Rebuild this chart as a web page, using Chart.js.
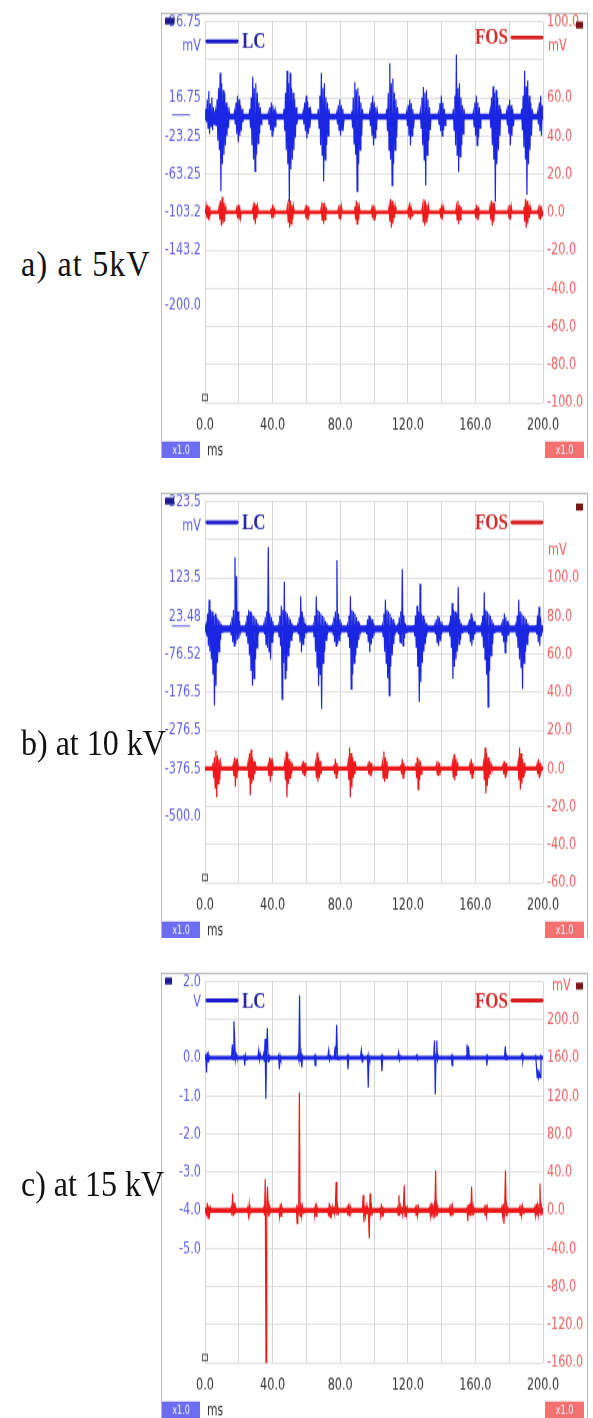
<!DOCTYPE html>
<html><head><meta charset="utf-8">
<script src="https://cdn.jsdelivr.net/npm/chart.js@4.4.1/dist/chart.umd.min.js"></script>
<style>
body{margin:0;width:593px;height:1418px;background:#fff;position:relative;overflow:hidden}
.panel{position:absolute;left:155px;width:438px;height:335px;transform-origin:0 0}
.lab{position:absolute;left:21px;font-family:'Liberation Serif','Times New Roman',serif;font-size:32px;line-height:32px;color:#111;transform:scaleY(1.15);transform-origin:left center;white-space:nowrap}
</style></head><body>
<div class="panel" id="pa" style="top:6px"><canvas id="ca" width="438" height="335"></canvas></div>
<div class="panel" id="pb" style="top:486px"><canvas id="cb" width="438" height="335"></canvas></div>
<div class="panel" id="pc" style="top:966px"><canvas id="cc" width="438" height="335"></canvas></div>
<div class="lab" style="top:247px;letter-spacing:1.2px">a) at 5kV</div>
<div class="lab" style="top:726px">b) at 10 kV</div>
<div class="lab" style="top:1167px">c) at 15 kV</div>
<script>
// ---------- shared x axis (ms) ----------
const xTicks = [0,20,40,60,80,100,120,140,160,180,200];
const xLabels = ['0.0','','40.0','','80.0','','120.0','','160.0','','200.0'];
const DT = 0.45; // ms between samples inside a burst

// ---------- panel a (5 kV) ----------
const lcA_range = [-303.25, 96.75];
const lcA_ticks = [96.75, 16.75, -23.25, -63.25, -103.25, -143.25, -200];
const lcA_labels = ['96.75','16.75','-23.25','-63.25','-103.2','-143.2','-200.0'];
const fosA_range = [-100, 100];
const fosA_ticks = [100,80,60,40,20,0,-20,-40,-60,-80,-100];
const fosA_labels = ['100.0','','60.0','40.0','20.0','0.0','-20.0','-40.0','-60.0','-80.0','-100.0'];
const lcA_base = -3;
const lcA_bursts = [
 [0,[0,8,-6,18,-12,27,-18,14,-10,20,-14,10,-8,6,-5,0]],
 [5.8,[0,6,-10,18,-25,30,-35,46,-78,35,-50,28,-40,25,-30,15,-20,10,-12,6,0]],
 [17,[0,5,-8,15,-18,22,-27,18,-20,12,-15,8,-6,0]],
 [26,[0,8,-12,20,-30,42,-45,30,-57,35,-40,25,-28,15,-18,10,-8,0]],
 [37,[0,4,-8,10,-14,15,-20,12,-15,8,-10,5,0]],
 [46.3,[0,8,-15,25,-35,48,-50,35,-89,46,-55,30,-45,25,-35,18,-22,10,-8,0]],
 [57.6,[0,5,-8,15,-15,22,-23,16,-18,10,-12,6,0]],
 [66.6,[0,8,-12,22,-30,46,-40,30,-68,35,-45,20,-30,15,-20,8,0]],
 [77.5,[0,4,-8,12,-14,18,-20,12,-14,8,-8,0]],
 [86.4,[0,6,-12,20,-28,36,-40,28,-78,30,-50,22,-35,15,-20,8,0]],
 [97,[0,5,-10,15,-20,22,-30,15,-22,10,-14,6,0]],
 [107.1,[0,8,-15,25,-35,56,-45,35,-72,40,-50,25,-35,18,-22,10,0]],
 [118.9,[0,5,-10,12,-20,18,-30,14,-20,8,-12,0]],
 [127,[0,6,-12,20,-30,31,-45,25,-72,28,-40,18,-25,10,-14,0]],
 [137.6,[0,4,-8,14,-15,22,-20,15,-14,8,-9,0]],
 [146.5,[0,8,-14,22,-30,65,-40,30,-58,35,-42,20,-30,12,-18,8,0]],
 [158.3,[0,5,-10,15,-20,22,-30,15,-22,10,-12,0]],
 [168.2,[0,6,-12,20,-30,32,-45,25,-89,28,-50,20,-35,12,-20,8,0]],
 [178,[0,5,-9,12,-18,18,-30,12,-20,8,-10,0]],
 [186.9,[0,8,-14,22,-32,48,-45,32,-82,38,-50,22,-35,15,-20,8,0]],
 [196.4,[0,5,-8,15,-15,22,-20,12,0]]
];
const fosA_base = 0;
const fosA_bursts = [
 [0.2,[0,3,-3,4,-4,3,-2,0]],
 [7.9,[0,3,-4,6,-7,8,-6,5,-5,3,0]],
 [18.3,[0,2,-3,4,-4,3,-3,0]],
 [28,[0,3,-4,5,-6,4,-3,3,0]],
 [38.6,[0,2,-3,4,-3,2,0]],
 [48.3,[0,3,-5,7,-8,6,-6,4,-4,3,0]],
 [58.8,[0,2,-3,4,-4,3,-2,0]],
 [68.4,[0,3,-4,5,-6,5,-4,3,0]],
 [78.5,[0,2,-3,4,-4,3,0]],
 [88.2,[0,3,-4,6,-6,5,-4,3,0]],
 [98.2,[0,2,-3,4,-4,3,-2,0]],
 [108.5,[0,3,-5,7,-8,6,-6,4,-3,3,0]],
 [119.8,[0,2,-3,5,-4,3,-2,0]],
 [128.2,[0,3,-5,7,-7,6,-5,4,-3,3,0]],
 [138.6,[0,2,-3,4,-4,3,0]],
 [148.3,[0,3,-4,6,-6,4,-4,3,0]],
 [159.3,[0,2,-3,4,-4,3,-2,0]],
 [168.2,[0,3,-4,6,-7,5,-5,3,0]],
 [179,[0,2,-3,4,-4,3,0]],
 [188.3,[0,3,-5,7,-8,6,-6,4,-3,3,0]],
 [196.8,[0,2,-3,4,-4,3,-2,0]]
];

// ---------- panel b (10 kV) ----------
const lcB_range = [-676.5, 323.5];
const lcB_ticks = [323.5, 123.5, 23.48, -76.52, -176.5, -276.5, -376.5, -500];
const lcB_labels = ['323.5','123.5','23.48','-76.52','-176.5','-276.5','-376.5','-500.0'];
const fosB_range = [-60, 140];
const fosB_ticks = [140,120,100,80,60,40,20,0,-20,-40,-60];
const fosB_labels = ['','','100.0','80.0','60.0','40.0','20.0','0.0','-20.0','-40.0','-60.0'];
const lcB_base = -10;
const lcB_bursts = [
 [0.2,[0,10,-20,40,-45,76,-60,50,-80,45,-120,35,-201,40,-150,30,-90,25,-60,20,-30,12,-8,0]],
 [14.6,[0,10,-15,30,-35,50,-45,188,-40,138,-30,45,-25,20,-10,0]],
 [23.6,[0,10,-20,35,-40,50,-70,45,-110,40,-149,35,-130,30,-80,25,-50,15,-10,0]],
 [34.3,[0,10,-15,30,-40,45,-50,214,-60,40,-80,30,-35,20,-10,0]],
 [42.9,[0,10,-20,35,-45,60,-184,50,-90,123,-130,45,-110,40,-70,30,-50,25,-30,15,-10,0]],
 [54.4,[0,10,-15,30,-35,85,-62,45,-40,30,-25,15,-10,0]],
 [63.6,[0,10,-20,35,-60,85,-100,50,-150,45,-120,40,-210,35,-90,30,-60,20,-30,15,-10,0]],
 [74.9,[0,10,-15,30,-35,45,-45,180,-40,40,-30,25,-15,10,0]],
 [83.8,[0,10,-20,35,-50,85,-158,50,-120,45,-90,40,-70,30,-50,20,-30,15,-10,0]],
 [94.8,[0,10,-15,25,-35,35,-62,30,-40,25,-25,15,-10,0]],
 [104.5,[0,10,-20,40,-60,76,-90,50,-130,45,-175,40,-100,30,-70,25,-40,15,-10,0]],
 [113.6,[0,10,-15,30,-35,45,-40,157,-45,35,-25,15,-10,0]],
 [123.2,[0,10,-20,35,-50,60,-100,45,-192,118,-140,40,-90,35,-60,25,-40,15,-10,0]],
 [135.5,[0,10,-15,25,-35,35,-45,30,-30,20,-15,10,0]],
 [144,[0,10,-20,35,-50,67,-132,50,-100,45,-80,40,-60,110,-40,25,-30,15,-10,0]],
 [155.2,[0,10,-15,25,-35,40,-45,30,-30,20,-15,10,0]],
 [163,[0,10,-20,35,-50,96,-80,50,-120,45,-205,40,-110,35,-70,25,-40,15,-10,0]],
 [174.9,[0,10,-15,25,-35,40,-62,30,-35,20,-15,10,0]],
 [183.4,[0,10,-20,35,-50,76,-80,45,-100,40,-158,35,-90,30,-60,25,-40,15,-10,0]],
 [195.4,[0,10,-15,35,-35,58,-45,30,-20,0]]
];
const fosB_base = 0;
const fosB_bursts = [
 [4.2,[0,3,-5,6,-10,9.5,-15,7,-8,5,-6,3,0]],
 [16.2,[0,2,-4,6,-9.5,5,-5,3,0]],
 [25,[0,3,-5,8,-14,10,-8,6,-6,4,-3,2,0]],
 [36.9,[0,2,-4,6,-7,5,-4,3,0]],
 [46.7,[0,3,-6,9,-15,8,-8,5,-5,4,-3,2,0]],
 [57,[0,2,-3,4,-4,3,-2,0]],
 [65,[0,3,-5,8.5,-7,6,-5,4,-3,0]],
 [75.8,[0,2,-3,5,-5,3,-2,0]],
 [84.2,[0,3,-6,11,-15,8,-10,6,-5,4,-3,2,0]],
 [96,[0,2,-3,4,-4,3,-2,0]],
 [104.5,[0,3,-5,9,-7,6,-5,4,-3,0]],
 [115.4,[0,2,-3,5,-5,3,-2,0]],
 [124.3,[0,3,-5,6,-11,5,-6,4,-3,0]],
 [136.5,[0,2,-3,4,-4,3,-2,0]],
 [146,[0,3,-5,7.5,-6,5,-4,3,0]],
 [156.2,[0,2,-3,5,-5,3,-2,0]],
 [164.4,[0,3,-6,11,-13,8,-9,6,-5,4,-3,2,0]],
 [175.9,[0,2,-3,4,-5,3,-2,0]],
 [184.8,[0,3,-6,11,-11,8,-8,5,-5,3,-2,0]],
 [196,[0,2,-3,5,-5,3,-2,0]]
];

// ---------- panel c (15 kV) ----------
const lcC_range = [-8, 2];
const lcC_ticks = [2, 0, -1, -2, -3, -4, -5];
const lcC_labels = ['2.0','0.0','-1.0','-2.0','-3.0','-4.0','-5.0'];
const fosC_range = [-160, 240];
const fosC_ticks = [240,200,160,120,80,40,0,-40,-80,-120,-160];
const fosC_labels = ['','200.0','160.0','120.0','80.0','40.0','0.0','-40.0','-80.0','-120.0','-160.0'];
const lcC_base = 0;
const lcC_bursts = [
 [0,[0,0.1,-0.39,0.15,-0.1,0.08,0]],
 [15.3,[0,0.05,0.35,-0.05,0.96,0.5,-0.05,0.1,0]],
 [22.6,[0,0.08,-0.2,0.06,-0.05,0]],
 [30.9,[0,0.05,0.2,-0.05,0.1,0]],
 [34.2,[0,0.1,-0.1,0.5,-1.08,0.3,0.78,-0.1,0.1,-0.05,0]],
 [43.1,[0,0.06,-0.3,0.05,-0.05,0]],
 [54.6,[0,0.08,-0.05,1.64,-0.1,0.1,-0.25,0.05,0]],
 [64.3,[0,0.05,-0.2,0.05,0]],
 [72.3,[0,0.06,0.2,-0.05,0.05,0]],
 [76.1,[0,0.05,0.3,-0.05,0.87,0.1,-0.05,0]],
 [83.7,[0,0.05,-0.3,0.05,0]],
 [91.6,[0,0.05,0.2,-0.1,0.05,0]],
 [95.7,[0,0.05,-0.78,0.05,-0.05,0]],
 [103.8,[0,0.05,-0.35,0.05,0]],
 [113.7,[0,0.05,0.15,-0.05,0.05,0]],
 [124.5,[0,0.05,0.1,-0.05,0]],
 [134.9,[0,0.05,0.45,-0.95,0.1,0.45,-0.05,0.05,0]],
 [145.3,[0,0.05,-0.2,0.05,0]],
 [154.1,[0,0.05,0.35,-0.05,0.3,0.05,0]],
 [165.9,[0,0.05,-0.2,0.05,0]],
 [176.8,[0,0.05,0.3,-0.05,0.05,0]],
 [186.7,[0,0.05,0.1,-0.08,0.05,0]],
 [195.2,[0,0.05,-0.2,-0.52,-0.3,-0.52,-0.4,-0.52,0.05,0]]
];
const fosC_base = 0;
const fosC_bursts = [
 [0,[0,3,-6,8,-8,5,-4,3,0]],
 [15,[0,3,-5,17.7,-6,8,-4,3,0]],
 [24.8,[0,3,-5,6,-4,0]],
 [34.3,[0,3,-5,33,-160.7,8,25,-6,5,-3,0]],
 [43.2,[0,3,-6,7,-6,4,0]],
 [53.6,[0,3,-13.5,6,-5,123.6,-6,8,-5,4,-3,0]],
 [64,[0,3,-5,7,-6,4,0]],
 [72.2,[0,3,-6,8,-7,5,-4,3,-3,4,-3,5,30,-5,4,-3,0]],
 [83.6,[0,3,-5,7,-6,4,-3,0]],
 [92.7,[0,3,16,-12,5,-5,4,-4,3,-6,-29.1,18,-6,4,-3,0]],
 [103,[0,3,-5,7,-6,4,-3,0]],
 [113.4,[0,3,-5,16,-5,4,-3,4,-4,5,26.3,-6,5,-4,3,0]],
 [124,[0,3,-5,6,-5,4,0]],
 [132.4,[0,3,-5,8,-7,6,-4,4,-8,41.9,-6,5,-3,0]],
 [144.2,[0,3,-5,7,-6,4,-3,0]],
 [154.6,[0,3,-11,6,-5,8,-6,25,-5,4,-3,0]],
 [164.8,[0,3,-5,6,-5,4,0]],
 [175.1,[0,3,-5,7,-14,5,41.9,-6,4,-3,0]],
 [185.6,[0,3,-5,6,-5,4,-3,0]],
 [194.6,[0,3,-5,7,-6,5,-4,6,28,-5,4,-3,0]]
];

// ---------- rendering ----------
const S = 452/335;            // vertical stretch of each panel (page px per canvas px)
['pa','pb','pc'].forEach(id=>document.getElementById(id).style.transform='scaleY('+S+')');
const LC_COL = 'rgb(26,38,226)';
const FOS_COL = 'rgb(236,26,26)';
const TICK_FONT = "'DejaVu Sans Condensed','Liberation Sans Narrow','Liberation Sans',sans-serif";
const GRID_COL = '#d6d6d6';

function trace(bursts, base){
  const pts = [];
  for (const [t0, vals] of bursts) vals.forEach((v,i)=>pts.push({x:t0+i*DT, y:base+v}));
  return pts;
}
function floorLine(base){ return [{x:xTicks[0], y:base},{x:xTicks[xTicks.length-1], y:base}]; }

const decoPlugin = {
  id:'deco',
  beforeDraw(chart){
    const c = chart.ctx; c.save(); c.fillStyle='#fff'; c.fillRect(0,0,chart.width,chart.height); c.restore();
  },
  afterDraw(chart){
    const d = chart.options.plugins.deco, c = chart.ctx, ca = chart.chartArea;
    const Y = v => ca.top + v/S;
    c.save();
    // frame
    c.strokeStyle='#b9b9b9'; c.lineWidth=1;
    c.strokeRect(6.5, Y(-8), 426, 447/S);
    // channel squares
    c.fillStyle='#1d1d8e'; c.fillRect(d.sqX, Y(-4), d.sqW, 7/S);
    c.fillStyle='#7c1515'; c.fillRect(421, Y(d.rsqY), 7, 7/S);
    // LC legend
    c.lineCap='round'; c.lineWidth=4/S;
    c.strokeStyle='#1b1bcc';
    c.beginPath(); c.moveTo(ca.left+2, Y(d.lcY)); c.lineTo(ca.left+32, Y(d.lcY)); c.stroke();
    c.font="bold 17px 'Liberation Serif', serif"; c.textBaseline='middle';
    c.fillStyle='#2626a6'; c.textAlign='left';
    c.fillText('LC', ca.left+37, Y(d.lcY+1));
    // FOS legend
    c.strokeStyle='#d81e1e';
    c.beginPath(); c.moveTo(ca.right-31, Y(d.fosY)); c.lineTo(ca.right-1, Y(d.fosY)); c.stroke();
    c.fillStyle='#d42a2a'; c.textAlign='right';
    c.fillText('FOS', ca.right-35, Y(d.fosY+1));
    // units
    c.font="12.5px "+TICK_FONT;
    c.fillStyle='#5f5fe6'; c.textAlign='right';
    c.fillText(d.lUnit, ca.left-4, Y(d.lUnitY));
    c.fillStyle='#f06060'; c.textAlign='left';
    c.fillText(d.rUnit, ca.right+d.rUnitDX, Y(d.rUnitY));
    // zero marker of LC channel
    if (d.zeroMark){
      const y0 = chart.scales.y.getPixelForValue(0)+1/S;
      c.strokeStyle='#7070e8'; c.lineWidth=1.5/S; c.lineCap='butt';
      c.beginPath(); c.moveTo(17, y0); c.lineTo(35, y0); c.stroke();
    }
    // trigger marker
    c.strokeStyle='#555'; c.lineWidth=1;
    c.strokeRect(ca.left-2.5, ca.bottom-8.5/S, 5, 6/S);
    // badges
    c.fillStyle='#6c6cf2'; c.fillRect(7, Y(420), 38, 17/S);
    c.fillStyle='#f37171'; c.fillRect(390, Y(420), 39, 17/S);
    c.font="9px "+TICK_FONT; c.textAlign='center'; c.fillStyle='#f4f4ff';
    c.fillText('x1.0', 26, Y(429));
    c.fillText('x1.0', 409.5, Y(429));
    c.font="12px "+TICK_FONT; c.textAlign='left'; c.fillStyle='#333';
    c.fillText('ms', 52, Y(429));
    c.restore();
  }
};

function makeChart(id, P){
  return new Chart(document.getElementById(id), {
    type:'line',
    data:{datasets:[
      {data:trace(P.lcB, P.lcBase), yAxisID:'y', borderColor:LC_COL, borderWidth:1.2, pointRadius:0, tension:0},
      {data:floorLine(P.lcBase), yAxisID:'y', borderColor:LC_COL, borderWidth:P.lcFloorW/S, pointRadius:0},
      {data:trace(P.fosB, P.fosBase), yAxisID:'y2', borderColor:FOS_COL, borderWidth:1.2, pointRadius:0, tension:0},
      {data:floorLine(P.fosBase), yAxisID:'y2', borderColor:FOS_COL, borderWidth:P.fosFloorW/S, pointRadius:0}
    ]},
    options:{
      responsive:false, animation:false, events:[],
      layout:{padding:{top:12/S,left:0,right:0,bottom:0}},
      plugins:{legend:{display:false}, tooltip:{enabled:false}, deco:P.deco},
      scales:{
        x:{type:'linear', min:xTicks[0], max:xTicks[xTicks.length-1],
           afterBuildTicks(s){ s.ticks = xTicks.map(v=>({value:v})); },
           afterFit(s){ s.height = 335 - 397/S; },
           border:{display:false},
           grid:{color:GRID_COL, borderDash:[2,3], drawTicks:false, lineWidth:1},
           ticks:{autoSkip:false, maxRotation:0, padding:9, color:'#333',
                  font:{family:TICK_FONT, size:12.5},
                  callback:(v,i)=>xLabels[i]}},
        y:{type:'linear', position:'left', min:P.lcRange[0], max:P.lcRange[1],
           afterBuildTicks(s){ s.ticks = P.lcTicks.map(v=>({value:v})); },
           afterFit(s){ s.width = 50; },
           border:{display:false}, grid:{display:false, drawTicks:false},
           ticks:{autoSkip:false, padding:4, color:'#5f5fe6', font:{family:TICK_FONT, size:12.5},
                  callback:(v,i)=>P.lcLabels[i]}},
        y2:{type:'linear', position:'right', min:P.fosRange[0], max:P.fosRange[1],
           afterBuildTicks(s){ s.ticks = P.fosTicks.map(v=>({value:v})); },
           afterFit(s){ s.width = 50; },
           border:{display:false},
           grid:{color:GRID_COL, borderDash:[2,3], drawTicks:false, lineWidth:1/S},
           ticks:{autoSkip:false, padding:4, color:'#f06060', font:{family:TICK_FONT, size:12.5},
                  callback:(v,i)=>P.fosLabels[i]}}
      }
    },
    plugins:[decoPlugin]
  });
}

makeChart('ca', {lcB:lcA_bursts, lcBase:lcA_base, fosB:fosA_bursts, fosBase:fosA_base,
  lcRange:lcA_range, lcTicks:lcA_ticks, lcLabels:lcA_labels,
  fosRange:fosA_range, fosTicks:fosA_ticks, fosLabels:fosA_labels,
  lcFloorW:6, fosFloorW:4,
  deco:{sqX:10, sqW:9, lcY:20, fosY:16, lUnit:'mV', lUnitY:24, rUnit:'mV', rUnitDX:5, rUnitY:25, rsqY:0, zeroMark:true}});
makeChart('cb', {lcB:lcB_bursts, lcBase:lcB_base, fosB:fosB_bursts, fosBase:fosB_base,
  lcRange:lcB_range, lcTicks:lcB_ticks, lcLabels:lcB_labels,
  fosRange:fosB_range, fosTicks:fosB_ticks, fosLabels:fosB_labels,
  lcFloorW:7, fosFloorW:4.5,
  deco:{sqX:10, sqW:9, lcY:21, fosY:21, lUnit:'mV', lUnitY:24, rUnit:'mV', rUnitDX:5, rUnitY:49, rsqY:2, zeroMark:true}});
makeChart('cc', {lcB:lcC_bursts, lcBase:lcC_base, fosB:fosC_bursts, fosBase:fosC_base,
  lcRange:lcC_range, lcTicks:lcC_ticks, lcLabels:lcC_labels,
  fosRange:fosC_range, fosTicks:fosC_ticks, fosLabels:fosC_labels,
  lcFloorW:4, fosFloorW:5,
  deco:{sqX:10, sqW:7, lcY:19, fosY:19, lUnit:'V', lUnitY:20, rUnit:'mV', rUnitDX:9, rUnitY:5, rsqY:1, zeroMark:false}});
</script>
</body></html>
